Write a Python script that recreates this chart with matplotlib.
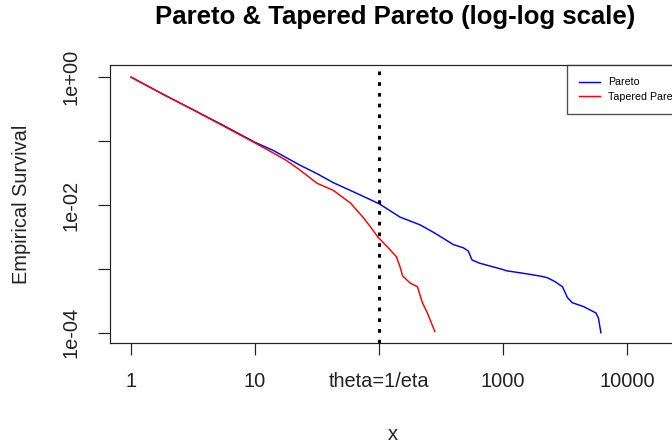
import matplotlib
matplotlib.use("Agg")
import matplotlib.pyplot as plt

plt.rcParams['font.family'] = ['Liberation Sans', 'DejaVu Sans']

# values (log10 of x and log10 of survival)
pareto_logx = [0.0, 0.25, 0.5, 0.75, 1.0, 1.15, 1.36, 1.5, 1.63, 1.8, 2.0, 2.17, 2.33,
               2.45, 2.6, 2.68, 2.72, 2.75, 2.81, 2.98, 3.03, 3.2, 3.32, 3.36, 3.42,
               3.48, 3.52, 3.56, 3.65, 3.75, 3.77, 3.79]
pareto_logy = [0.0, -0.26, -0.51, -0.76, -1.02, -1.15, -1.375, -1.51, -1.65, -1.8, -1.98,
               -2.19, -2.31, -2.44, -2.62, -2.67, -2.72, -2.86, -2.91, -3.0, -3.03, -3.08,
               -3.12, -3.14, -3.2, -3.28, -3.45, -3.53, -3.59, -3.69, -3.77, -4.0]
tapered_logx = [0.0, 0.25, 0.5, 0.75, 1.0, 1.15, 1.25, 1.36, 1.5, 1.63, 1.77, 1.87, 1.93,
                1.99, 2.07, 2.14, 2.17, 2.19, 2.25, 2.31, 2.35, 2.39, 2.45]
tapered_logy = [0.0, -0.26, -0.51, -0.77, -1.03, -1.19, -1.3, -1.45, -1.66, -1.77, -1.97,
                -2.19, -2.34, -2.5, -2.66, -2.81, -2.97, -3.11, -3.22, -3.28, -3.53, -3.69,
                -3.98]
pareto_x = [10 ** v for v in pareto_logx]
pareto_s = [10 ** v for v in pareto_logy]
tapered_x = [10 ** v for v in tapered_logx]
tapered_s = [10 ** v for v in tapered_logy]

theta = 100
x_ticks = [1, 10, 100, 1000, 10000]
x_labels = ['1', '10', 'theta=1/eta', '1000', '10000']
y_ticks = [1, 1e-1, 1e-2, 1e-3, 1e-4]
y_labels = ['1e+00', '', '1e-02', '', '1e-04']

fig = plt.figure(figsize=(7, 448 / 96), dpi=96)
ax = fig.add_axes([110 / 672, 1 - 343 / 448, (679 - 110) / 672, (343 - 65) / 448])

ax.plot(pareto_x, pareto_s, color='#0000FF', lw=1.1, label='Pareto')
ax.plot(tapered_x, tapered_s, color='#FF0000', lw=1.1, label='Tapered Pareto')
ax.axvline(theta, color='black', lw=2.3, linestyle=(0, (1.2, 2.3)))

ax.set_xscale('log')
ax.set_yscale('log')
ax.set_xlim(10 ** -0.17, 10 ** 4.42)
ax.set_ylim(10 ** -4.16, 10 ** 0.19)
ax.minorticks_off()
ax.set_xticks(x_ticks)
ax.set_xticklabels(x_labels)
ax.set_yticks(y_ticks)
ax.set_yticklabels(y_labels, rotation=90, va='center')
ax.tick_params(direction='out', length=9, width=0.9, labelsize=15, colors='#222222')
ax.tick_params(axis='x', pad=13)
ax.tick_params(axis='y', pad=13)
for sp in ax.spines.values():
    sp.set_color('#222222')
    sp.set_linewidth(0.9)

# legend sits in the top right corner and runs off the right edge, as in the original
ax.legend(loc='upper left', bbox_to_anchor=(567 / 672, 1 - 65 / 448),
          bbox_transform=fig.transFigure, fontsize=8, frameon=True, fancybox=False,
          edgecolor='#222222', borderaxespad=0, handlelength=1.9, handletextpad=0.8,
          borderpad=1.15, labelspacing=0.42)

fig.text(395 / 672, 1 - 17 / 448, 'Pareto & Tapered Pareto (log-log scale)',
         ha='center', va='center', fontsize=19.3, fontweight='bold')
fig.text(393 / 672, 1 - 435 / 448, 'x', ha='center', va='center', fontsize=15,
         color='#222222')
fig.text(22 / 672, 1 - 204 / 448, 'Empirical Survival', ha='center', va='center',
         rotation=90, fontsize=15, color='#222222')

fig.savefig('out.png', dpi=96)
